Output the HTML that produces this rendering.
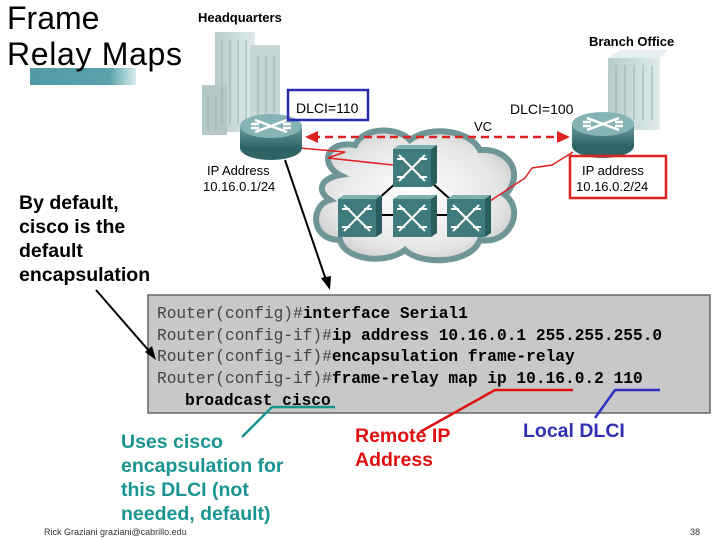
<!DOCTYPE html>
<html><head><meta charset="utf-8"><style>
html,body{margin:0;padding:0;background:#fff;}
svg{display:block}
text{font-family:"Liberation Sans",Arial,sans-serif}
.m text{font-family:"Liberation Mono",monospace;font-size:16.2px}
</style></head><body>
<svg width="720" height="540" viewBox="0 0 720 540" xmlns="http://www.w3.org/2000/svg">
<defs>
<linearGradient id="bar" x1="0" x2="1"><stop offset="0" stop-color="#4f9aa5"/><stop offset="0.75" stop-color="#5aa3ad"/><stop offset="1" stop-color="#d8ecee"/></linearGradient>
<linearGradient id="bld" x1="0" x2="1"><stop offset="0" stop-color="#b8cccc"/><stop offset="1" stop-color="#dfeaea"/></linearGradient>
<radialGradient id="cl" cx="0.5" cy="0.5" r="0.6"><stop offset="0" stop-color="#ffffff"/><stop offset="0.7" stop-color="#e6e6e6"/><stop offset="1" stop-color="#c8c8c8"/></radialGradient>
<linearGradient id="rt" x1="0" y1="0" x2="0" y2="1"><stop offset="0" stop-color="#6a9c9e"/><stop offset="1" stop-color="#2f6466"/></linearGradient>
<g id="sw"><rect x="0" y="4" width="38" height="38" fill="#3f7b7d"/><polygon points="0,4 6,0 44,0 38,4" fill="#7fb0b1"/><polygon points="38,4 44,0 44,38 38,42" fill="#2b5d5f"/><path d="M6,10 L32,36 M32,10 L6,36 M4,14h8 M26,14h8 M4,32h8 M26,32h8" stroke="#fff" stroke-width="2" fill="none"/></g>
<g id="rtr"><ellipse cx="0" cy="22" rx="31" ry="12" fill="#2f6466"/><rect x="-31" y="0" width="62" height="22" fill="url(#rt)"/><ellipse cx="0" cy="0" rx="31" ry="12" fill="#86b4b5"/><path d="M-16,-6 L16,6 M16,-6 L-16,6 M-20,-2h8 M12,-2h8 M-20,2h8 M12,2h8" stroke="#fff" stroke-width="2.5"/></g>
</defs>
<text x="7" y="29" font-size="32" fill="#000">Frame</text>
<rect x="30" y="68" width="106" height="17" fill="url(#bar)"/>
<text x="7" y="65" font-size="32" fill="#000" textLength="175">Relay Maps</text>

<text x="198" y="22" font-size="13" font-weight="bold">Headquarters</text>
<text x="589" y="46" font-size="13" font-weight="bold">Branch Office</text>
<rect x="215" y="32" width="40" height="100" fill="url(#bld)"/>
<rect x="250" y="45" width="30" height="85" fill="#c6d6d6"/>
<rect x="202" y="85" width="25" height="50" fill="#b4c8c8"/>
<g stroke="#9ab0b0" stroke-width="1"><path d="M222,40v85 M230,40v85 M238,40v85 M246,40v85 M258,55v70 M266,55v70 M274,55v70 M208,95v35 M216,95v35"/></g>
<rect x="608" y="58" width="52" height="72" fill="url(#bld)"/>
<polygon points="608,58 620,50 668,50 660,58" fill="#e4eeee"/>
<g stroke="#9ab0b0"><path d="M616,65v55 M625,65v55 M634,65v55 M643,65v55 M652,65v55"/></g>
<path d="M340,175 C320,165 325,140 355,145 C365,125 400,128 410,140 C430,125 470,130 480,150 C510,148 525,175 505,195 C525,210 510,245 480,240 C470,265 420,265 405,250 C385,265 345,260 340,240 C310,240 310,205 330,200 C315,190 322,178 340,175 Z" fill="url(#cl)" stroke="#6f9597" stroke-width="6"/>
<path d="M360,215 L414,167 L468,215 M360,215 H468" stroke="#000" stroke-width="2" fill="none"/>
<path d="M300,148 L345,152 L328,158 L393,165" stroke="#d22" stroke-width="1.5" fill="none"/>
<path d="M487,203 L525,178 L532,168 L552,165 L573,152" stroke="#d22" stroke-width="1.5" fill="none"/>
<use href="#sw" x="393" y="145"/>
<use href="#sw" x="338" y="195"/>
<use href="#sw" x="393" y="195"/>
<use href="#sw" x="447" y="195"/>
<use href="#rtr" x="271" y="126"/>
<use href="#rtr" x="603" y="124"/>
<line x1="312" y1="137" x2="562" y2="137" stroke="#d22" stroke-width="2.5" stroke-dasharray="8,5"/>
<polygon points="305,137 318,131 318,143" fill="#d22"/>
<polygon points="570,137 557,131 557,143" fill="#d22"/>
<text x="474" y="131" font-size="13">VC</text>
<rect x="288" y="90" width="80" height="30" fill="none" stroke="#2a2ab0" stroke-width="2.5"/>
<text x="296" y="113" font-size="14">DLCI=110</text>
<text x="510" y="114" font-size="14">DLCI=100</text>
<text x="207" y="175" font-size="13">IP Address</text>
<text x="203" y="191" font-size="13">10.16.0.1/24</text>
<rect x="570" y="156" width="96" height="42" fill="none" stroke="#d22" stroke-width="2.5"/>
<text x="582" y="175" font-size="13">IP address</text>
<text x="576" y="191" font-size="13">10.16.0.2/24</text>

<g font-size="19.5" font-weight="bold"><text x="19" y="209">By default,</text><text x="19" y="233">cisco is the</text><text x="19" y="257">default</text><text x="19" y="281">encapsulation</text></g>

<rect x="148" y="295" width="562" height="118" fill="#c8c8c8" stroke="#666" stroke-width="1.5"/>
<g class="m">
<text x="157" y="318"><tspan fill="#444">Router(config)#</tspan><tspan font-weight="bold">interface Serial1</tspan></text>
<text x="157" y="340"><tspan fill="#444">Router(config-if)#</tspan><tspan font-weight="bold">ip address 10.16.0.1 255.255.255.0</tspan></text>
<text x="157" y="361"><tspan fill="#444">Router(config-if)#</tspan><tspan font-weight="bold">encapsulation frame-relay</tspan></text>
<text x="157" y="383"><tspan fill="#444">Router(config-if)#</tspan><tspan font-weight="bold">frame-relay map ip 10.16.0.2 110</tspan></text>
<text x="185" y="405" font-weight="bold">broadcast cisco</text>
</g>
<line x1="285" y1="160" x2="326" y2="280" stroke="#000" stroke-width="2"/>
<polygon points="330,290 321,278 331,276" fill="#000"/>
<line x1="96" y1="290" x2="150" y2="352" stroke="#000" stroke-width="2"/>
<polygon points="156,360 145,352 152,346" fill="#000"/>
<path d="M242,437 L272,407 H335" stroke="#1a9490" stroke-width="2.5" fill="none"/>
<path d="M420,432 L495,390 H573" stroke="#e01010" stroke-width="2.5" fill="none"/>
<path d="M595,418 L615,390 H660" stroke="#3030c0" stroke-width="2.5" fill="none"/>

<g font-size="19.5" font-weight="bold" fill="#1a9490"><text x="121" y="448">Uses cisco</text><text x="121" y="472">encapsulation for</text><text x="121" y="496">this DLCI (not</text><text x="121" y="520">needed, default)</text></g>
<g font-size="19.5" font-weight="bold" fill="#e01010"><text x="355" y="442">Remote IP</text><text x="355" y="466">Address</text></g>
<text x="523" y="437" font-size="19.5" font-weight="bold" fill="#3030b0">Local DLCI</text>
<text x="44" y="535" font-size="9" fill="#333">Rick Graziani  graziani@cabrillo.edu</text>
<text x="690" y="535" font-size="9" fill="#333">38</text>
</svg>
</body></html>
